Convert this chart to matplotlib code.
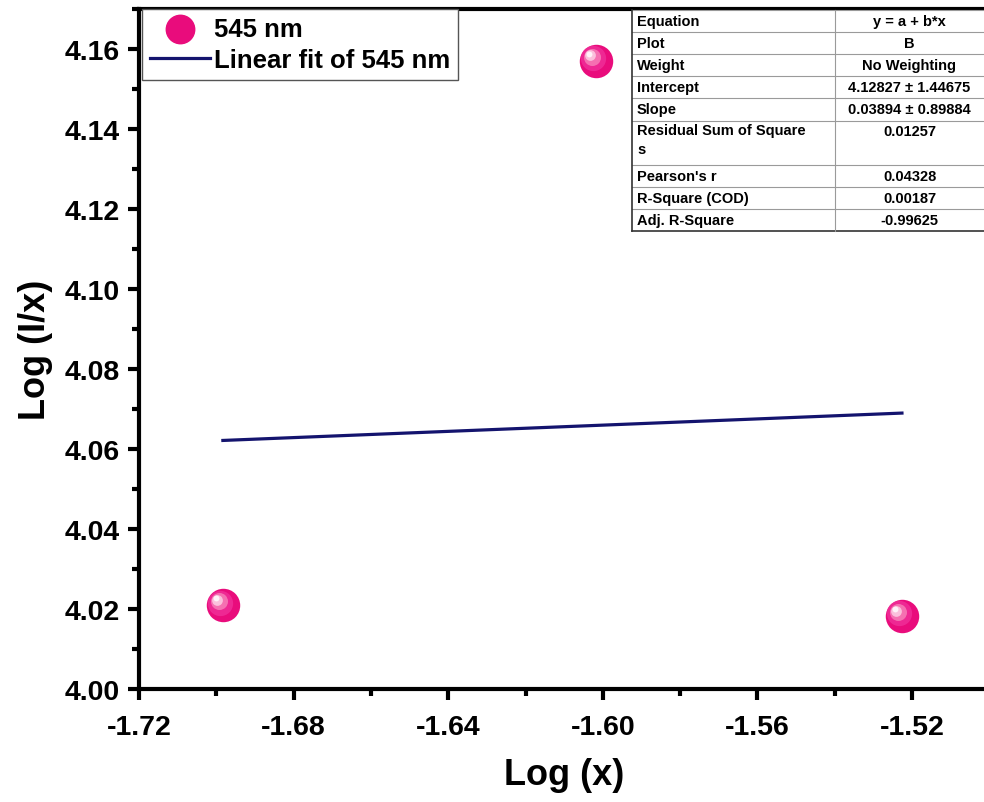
import matplotlib.pyplot as plt
import matplotlib.transforms as mtransforms
from matplotlib.ticker import MultipleLocator, FormatStrFormatter
import numpy as np

plt.rcParams['font.family'] = ['Liberation Sans', 'DejaVu Sans']
plt.rcParams['font.weight'] = 'bold'

# data
log_x = [-1.6983, -1.6018, -1.5226]
log_ix = [4.0209, 4.1570, 4.0182]
intercept = 4.12827
slope = 0.03894

table_keys = ["Equation", "Plot", "Weight", "Intercept", "Slope",
              "Residual Sum of Square\ns", "Pearson's r", "R-Square (COD)",
              "Adj. R-Square"]
table_vals = ["y = a + b*x", "B", "No Weighting", "4.12827 \u00b1 1.44675",
              "0.03894 \u00b1 0.89884", "0.01257", "0.04328", "0.00187",
              "-0.99625"]

pink = '#E90C7C'
navy = '#14146E'

fig = plt.figure(figsize=(9.84, 8.03), dpi=100)
ax = fig.add_axes([139 / 984, 1 - 690 / 803, 850.3 / 984, 680 / 803])

fx = np.array([log_x[0], log_x[-1]])
ax.plot(fx, intercept + slope * fx, color=navy, lw=2.3, zorder=2,
        label='Linear fit of 545 nm')

# sphere-like markers: base disc plus lighter highlights shifted up-left
ax.scatter(log_x, log_ix, s=580, color=pink, zorder=3, linewidths=0)
for k, (sz, col, a) in enumerate([(330, '#F0309A', 0.8), (150, '#F679B5', 0.9),
                                  (60, '#FBC0DC', 1.0), (18, '#FFF2F8', 1.0)]):
    off = mtransforms.offset_copy(ax.transData, fig=fig,
                                  x=-2.0 - 1.0 * k, y=2.0 + 1.0 * k, units='points')
    ax.scatter(log_x, log_ix, s=sz, color=col, alpha=a, zorder=4 + k,
               linewidths=0, transform=off)

# legend proxy for the points
ax.scatter([], [], s=580, color=pink, label='545 nm')
h, l = ax.get_legend_handles_labels()
leg = ax.legend([h[1], h[0]], [l[1], l[0]], loc='upper left',
                bbox_to_anchor=(0.004, 1.0), borderaxespad=0, fancybox=False,
                framealpha=1, edgecolor='#555555', fontsize=18.5,
                handlelength=2.35, handletextpad=0.15, borderpad=0.3,
                labelspacing=0.3, markerscale=0.85)
leg.get_frame().set_linewidth(1.0)

ax.set_xlim(-1.72, -1.50)
ax.set_ylim(4.00, 4.17)
ax.xaxis.set_major_locator(MultipleLocator(0.04))
ax.xaxis.set_minor_locator(MultipleLocator(0.02))
ax.yaxis.set_major_locator(MultipleLocator(0.02))
ax.yaxis.set_minor_locator(MultipleLocator(0.01))
ax.xaxis.set_major_formatter(FormatStrFormatter('%.2f'))
ax.yaxis.set_major_formatter(FormatStrFormatter('%.2f'))
ax.tick_params(which='major', direction='out', length=8, width=3,
               labelsize=20.5)
ax.tick_params(axis='x', which='major', pad=10)
ax.tick_params(axis='y', which='major', pad=6)
ax.tick_params(which='minor', direction='out', length=5, width=3)
for sp in ax.spines.values():
    sp.set_linewidth(3)
for t in ax.get_xticklabels() + ax.get_yticklabels():
    t.set_fontweight('bold')

ax.set_xlabel('Log (x)', fontsize=26, fontweight='bold', labelpad=12)
ax.set_ylabel('Log (I/x)', fontsize=26, fontweight='bold', labelpad=8)

# fit results table drawn in pixel coordinates
W, H = 984, 803
x0, xm, x1 = 632, 835, 984
row_h = 22.1
y = 11
tax = fig.add_axes([0, 0, 1, 1], zorder=10)
tax.set_xlim(0, W)
tax.set_ylim(H, 0)
tax.axis('off')
rows = []
for key, val in zip(table_keys, table_vals):
    hh = row_h * (2 if '\n' in key else 1)
    rows.append((y, hh, key, val))
    y += hh
tax.add_patch(plt.Rectangle((x0, 11), x1 - x0, y - 11, facecolor='white',
                            edgecolor='none'))
for (yy, hh, key, val) in rows:
    tax.plot([x0, x1], [yy, yy], color='#9a9a9a', lw=0.8)
    if '\n' in key:
        tax.text(x0 + 5, yy + 3, key, fontsize=10.5, fontweight='bold',
                 va='top', ha='left', linespacing=1.45)
        tax.text((xm + x1) / 2, yy + 11, val, fontsize=10.5,
                 fontweight='bold', va='center', ha='center')
    else:
        tax.text(x0 + 5, yy + hh / 2, key, fontsize=10.5, fontweight='bold',
                 va='center', ha='left')
        tax.text((xm + x1) / 2, yy + hh / 2, val, fontsize=10.5,
                 fontweight='bold', va='center', ha='center')
tax.plot([x0, x1], [y, y], color='#333333', lw=1.2)
tax.plot([xm, xm], [11, y], color='#9a9a9a', lw=0.8)
tax.plot([x0, x0], [11, y], color='#333333', lw=1.2)

fig.savefig('out.png', dpi=100)
